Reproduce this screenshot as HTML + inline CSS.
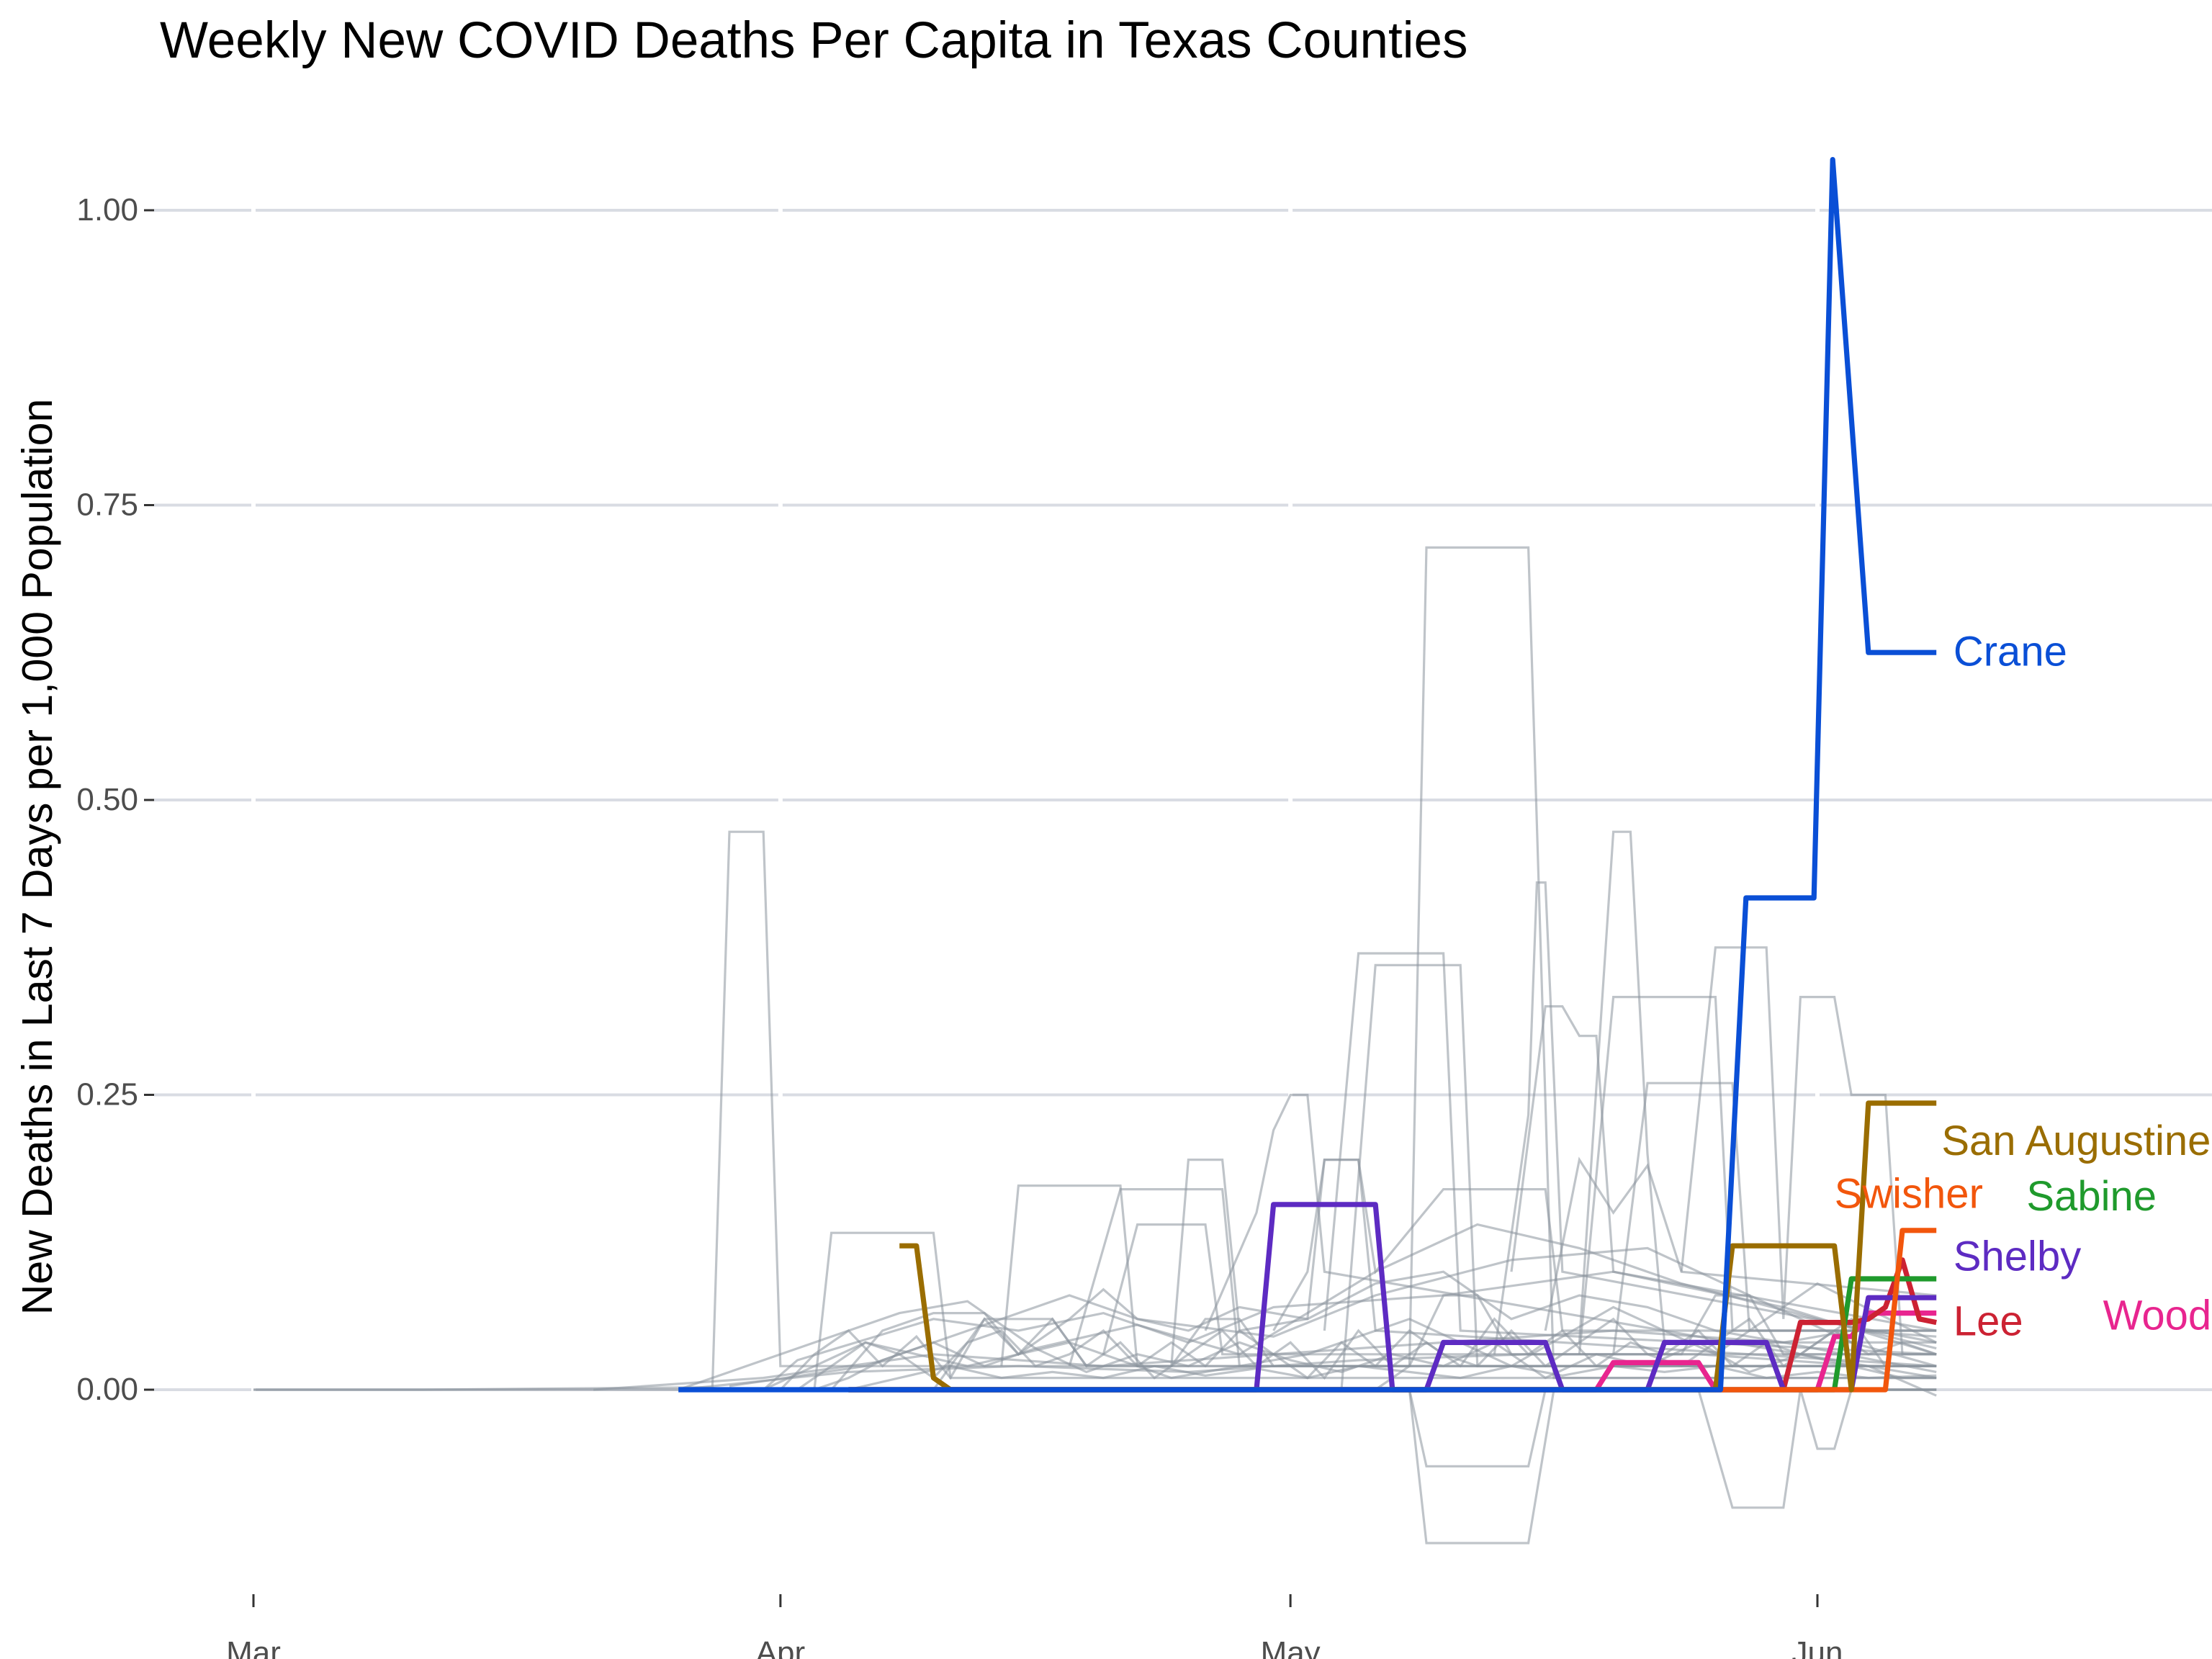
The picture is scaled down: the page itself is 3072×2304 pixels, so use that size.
<!DOCTYPE html>
<html><head><meta charset="utf-8"><style>
html,body{margin:0;padding:0;background:#fff;}
svg{display:block;font-family:"Liberation Sans",Arial,sans-serif;}
</style></head><body>
<svg id="chart" width="3072" height="2304" viewBox="0 0 1536 1152" xmlns="http://www.w3.org/2000/svg">
<rect x="0" y="0" width="1536" height="1152" fill="#fff"/>
<text x="111" y="40" font-size="35.5" fill="#000">Weekly New COVID Deaths Per Capita in Texas Counties</text>
<text transform="translate(36,595) rotate(-90)" text-anchor="middle" font-size="29.5" fill="#000">New Deaths in Last 7 Days per 1,000 Population</text>
<g id="grid"></g>
<g id="axes"></g>
<g id="grey"></g>
<g id="hl"></g>
<g id="labels"></g>
</svg>
<script>
// days since Mar 1
const yTicks = [0, 0.25, 0.5, 0.75, 1.0];
const yTickLabels = ["0.00", "0.25", "0.50", "0.75", "1.00"];
const xTicks = [0, 31, 61, 92];
const xTickLabels = ["Mar", "Apr", "May", "Jun"];

const greySeries = [
  [[0,0],[10,0],[26,0.002],[27,0.002],[28,0.473],[30,0.473],[31,0.02],[40,0.02],[60,0.02],[99,0.02]],
  [[66,0],[68,0],[69,-0.13],[75,-0.13],[76.5,0],[99,0]],
  [[66,0],[68,0.02],[69,0.714],[75,0.714],[76.5,0.01],[99,0.01]],
  [[33,0],[34,0.133],[40,0.133],[41,0.01],[99,0.01]],
  [[44,0.02],[45,0.173],[51,0.173],[52,0.02],[99,0.02]],
  [[63,0.05],[65,0.37],[70,0.37],[71,0.05],[99,0.03]],
  [[64,0],[66,0.36],[71,0.36],[72,0.02],[99,0.02]],
  [[73,0.03],[75,0.233],[75.5,0.43],[76,0.43],[77,0.1],[99,0.04]],
  [[78,0.04],[80,0.473],[81,0.473],[82,0.2],[83,0.04],[99,0.04]],
  [[84,0.1],[86,0.375],[89,0.375],[90,0.06],[91,0.333],[93,0.333],[94,0.25],[96,0.25],[97,0.03],[99,0.03]],
  [[56,0.05],[59,0.15],[60,0.22],[61,0.25],[62,0.25],[63,0.1],[99,0.01]],
  [[54,0.02],[55,0.195],[57,0.195],[58,0.05],[62,0.06],[63,0.195],[65,0.195],[66,0.05],[99,0.02]],
  [[78,0.03],[80,0.333],[86,0.333],[87,0.05],[99,0.05]],
  [[85,0],[87,-0.1],[90,-0.1],[91,0],[92,-0.05],[93,-0.05],[94,0],[99,0]],
  [[68,0],[69,-0.065],[75,-0.065],[76,0],[99,0]],
  [[74,0.1],[76,0.325],[77,0.325],[78,0.3],[79,0.3],[80,0.1],[99,0.05]],
  [[80,0.03],[82,0.26],[85,0.26],[87,0.26],[88,0.05],[99,0.05]],
  [[48,0.02],[51,0.17],[57,0.17],[58,0.02],[99,0.02]],
  [[50,0.03],[52,0.14],[56,0.14],[57,0.03],[99,0.03]],
  [[60,0.05],[62,0.1],[63,0.195],[65,0.195],[66,0.1],[70,0.17],[76,0.17],[77,0.05],[99,0.05]],
  [[76,0.05],[78,0.195],[80,0.15],[82,0.19],[84,0.1],[99,0.08]],
  [[30,0],[32,0.025],[40,0.06],[45,0.05],[50,0.065],[55,0.04],[60,0.07],[70,0.08],[80,0.1],[90,0.07],[99,0.03]],
  [[25,0],[34,0.045],[38,0.065],[42,0.075],[46,0.035],[52,0.055],[58,0.03],[66,0.1],[72,0.14],[78,0.12],[84,0.09],[92,0.06],[99,0.035]],
  [[28,0.003],[36,0.02],[44,0.06],[48,0.08],[52,0.06],[60,0.045],[66,0.08],[74,0.11],[82,0.12],[88,0.08],[94,0.04],[99,0.02]],
  [[20,0],[30,0.01],[40,0.03],[50,0.02],[60,0.03],[70,0.04],[80,0.05],[90,0.04],[99,0.015]],
  [[25,0],[35,0.015],[45,0.02],[55,0.015],[65,0.025],[75,0.03],[85,0.03],[95,0.02],[99,-0.005]],
  [[30,0],[36,0.04],[42,0.02],[48,0.04],[54,0.01],[62,0.03],[68,0.06],[74,0.02],[80,0.07],[86,0.03],[92,0.09],[99,0.04]],
  [[31,0],[33,0.03],[35,0.05],[37,0.02],[39,0.045],[41,0.01],[43,0.06],[45,0.03],[47,0.06],[49,0.02],[51,0.04],[53,0.01],[55,0.03],[57,0.05],[59,0.02],[61,0.04],[63,0.01],[65,0.05],[67,0.02],[69,0.04],[71,0.02],[73,0.06],[75,0.03],[77,0.05],[79,0.02],[81,0.04],[83,0.03],[85,0.05],[87,0.02],[89,0.04],[91,0.03],[93,0.05],[95,0.03],[97,0.04],[99,0.03]],
  [[32,0],[34,0.02],[36,0.04],[38,0.03],[40,0.01],[42,0.04],[44,0.05],[46,0.02],[48,0.03],[50,0.05],[52,0.02],[54,0.04],[56,0.02],[58,0.05],[60,0.03],[62,0.01],[64,0.04],[66,0.02],[68,0.05],[70,0.03],[72,0.02],[74,0.05],[76,0.02],[78,0.04],[80,0.06],[82,0.03],[84,0.02],[86,0.04],[88,0.06],[90,0.02],[92,0.04],[94,0.06],[96,0.02],[99,0.02]],
  [[33,0],[35,0.01],[37,0.025],[40,0.04],[43,0.02],[46,0.035],[49,0.015],[52,0.03],[55,0.02],[58,0.04],[61,0.025],[64,0.015],[67,0.03],[70,0.02],[73,0.04],[76,0.01],[79,0.03],[82,0.02],[85,0.04],[88,0.015],[91,0.03],[94,0.02],[97,0.01],[99,0.01]],
  [[34,0],[37,0.05],[40,0.065],[43,0.065],[45,0.03],[48,0.06],[50,0.085],[52,0.06],[55,0.05],[58,0.07],[62,0.06],[66,0.09],[70,0.1],[74,0.06],[78,0.08],[82,0.07],[86,0.05],[90,0.04],[94,0.05],[99,0.045]],
  [[35,0],[38,0.01],[41,0.02],[44,0.01],[47,0.015],[50,0.01],[53,0.02],[56,0.012],[59,0.018],[62,0.01],[65,0.02],[68,0.015],[71,0.01],[74,0.02],[77,0.012],[80,0.02],[83,0.015],[86,0.02],[89,0.01],[92,0.015],[95,0.01],[99,0.012]],
  [[40,0],[43,0.06],[47,0.06],[49,0.02],[54,0.02],[56,0.06],[58,0.06],[60,0.02],[68,0.02],[70,0.08],[72,0.08],[74,0.03],[84,0.03],[86,0.08],[88,0.08],[90,0.03],[99,0.03]],
  [[0,0],[99,0]]
];

const hlNames = ["Crane","San Augustine","Swisher","Sabine","Shelby","Lee","Wood"];
const hlColors = ["#0a4fd6","#9a6d00","#f2560c","#1f9a2c","#5d2bc2","#cc2233","#e8258f"];
const craneVals = [[25,0],[86.3,0],[87.8,0.417],[91.8,0.417],[92.9,1.043],[95,0.625],[99,0.625]];
const sanAugVals = [[38,0.122],[39,0.122],[40,0.01],[41,0],[86,0],[87,0.122],[93,0.122],[94,0],[95,0.243],[99,0.243]];
const swisherVals = [[35,0],[96,0],[97,0.135],[99,0.135]];
const sabineVals = [[35,0],[93,0],[94,0.094],[99,0.094]];
const shelbyVals = [[35,0],[59,0],[60,0.157],[66,0.157],[67,0],[69,0],[70,0.04],[76,0.04],[77,0],[82,0],[83,0.04],[89,0.04],[90,0],[94,0],[95,0.078],[99,0.078]];
const leeVals = [[35,0],[90,0],[91,0.057],[94,0.057],[95,0.06],[96,0.07],[97,0.11],[98,0.06],[99,0.057]];
const woodVals = [[38,0],[79,0],[80,0.023],[85,0.023],[86,0],[92,0],[93,0.045],[94,0.045],[95,0.065],[99,0.065]];
const hlVals = [craneVals,sanAugVals,swisherVals,sabineVals,shelbyVals,leeVals,woodVals];
const labelVals = [0.625, 0.21, 0.165, 0.163, 0.112, 0.057, 0.062];
const labelDayOffsets = [100, 99.3, 93, 104.3, 100, 100, 108.8];

const NS = "http://www.w3.org/2000/svg";
function xS(d){ return 176 + d * (1262 - 176) / 92; }
function yS(v){ return 965 - v * (965 - 146); }
function mk(tag, attrs, parent){ const e = document.createElementNS(NS, tag); for (const k in attrs) e.setAttribute(k, attrs[k]); parent.appendChild(e); return e; }

const grid = document.getElementById('grid');
const axes = document.getElementById('axes');
yTicks.forEach((t, i) => {
  const l = mk('line', {x1:107, x2:1552, y1:yS(t), y2:yS(t), stroke:'#d9dce3', 'stroke-width':2}, grid);
  
  
  const tk = mk('line', {x1:100, x2:107, y1:yS(t), y2:yS(t), stroke:'#333', 'stroke-width':1.5}, axes);
  
  
  const tx = mk('text', {x:96, y:yS(t)+7, 'text-anchor':'end', 'font-size':22, fill:'#4d4d4d'}, axes);
  tx.textContent = yTickLabels[i];
  
  
});
xTicks.forEach((t, i) => {
  const l = mk('line', {x1:xS(t), x2:xS(t), y1:80, y2:1100, stroke:'#fff', 'stroke-width':3}, grid);
  
  
  const tk = mk('line', {x1:xS(t), x2:xS(t), y1:1107, y2:1116, stroke:'#333', 'stroke-width':1.5}, axes);
  
  
  const tx = mk('text', {x:xS(t), y:1155, 'text-anchor':'middle', 'font-size':22, fill:'#4d4d4d'}, axes);
  tx.textContent = xTickLabels[i];
  
  
});

function pathD(vals){ return vals.map((p, i) => (i ? 'L' : 'M') + xS(p[0]).toFixed(1) + ',' + yS(p[1]).toFixed(1)).join(''); }
const grey = document.getElementById('grey');
greySeries.forEach(s => {
  const p = mk('path', {d:pathD(s), fill:'none', stroke:'#8a949c', 'stroke-opacity':0.55, 'stroke-width':1.6}, grey);
  
  
});
const hl = document.getElementById('hl');
const labels = document.getElementById('labels');
for (let i = hlVals.length - 1; i >= 0; i--) {
  const p = mk('path', {d:pathD(hlVals[i]), fill:'none', stroke:hlColors[i], 'stroke-width':3.6, 'stroke-linejoin':'round'}, hl);
  
  
}
hlNames.forEach((n, i) => {
  const t = mk('text', {x:xS(labelDayOffsets[i]), y:yS(labelVals[i]) + 9, 'font-size':29, fill:hlColors[i]}, labels);
  t.textContent = n;
  
  
});
</script>
</body></html>
